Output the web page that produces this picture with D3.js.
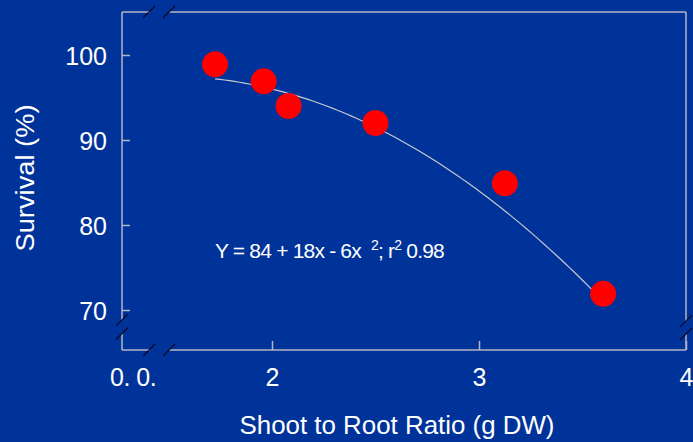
<!DOCTYPE html>
<html>
<head>
<meta charset="utf-8">
<script src="https://cdn.jsdelivr.net/npm/d3@7"></script>
<style>
  html, body { margin: 0; padding: 0; background: #003399; }
  svg { display: block; }
  text { font-family: "Liberation Sans", Arial, sans-serif; fill: #ffffff; }
</style>
</head>
<body>
<svg id="chart" width="693" height="442"></svg>
<script>
// Shoot-to-root ratio vs. seedling survival
const ratio    = [1.725, 1.96, 2.08, 2.50, 3.125, 3.60];
const survival = [98.9, 96.9, 94.0, 92.0, 84.9, 71.9];

// Quadratic fit Y = a + b·x + c·x², as printed on the chart
const fitCoef = [84, 18, -6];
const fitRange = [1.725, 3.60];

const xTicks = [2, 3, 4];
const xTickLabels = ["2", "3", "4"];
const yTicks = [70, 80, 90, 100];

const W = 693, H = 442;
const frame = { left: 122, right: 686, top: 12, bottom: 350 };

const svg = d3.select("#chart");
svg.append("rect").attr("width", W).attr("height", H).attr("fill", "#003399");

const x = d3.scaleLinear().domain([2, 4]).range([272, 686]);
const y = d3.scaleLinear().domain([70, 100]).range([310, 55]);

const axisColor = "#b4b4c4";
const breakColor = "#0a0a28";
const labelSize = 25;

// Frame with axis breaks
const frameG = svg.append("g").attr("stroke", axisColor).attr("stroke-width", 1.5).attr("fill", "none");
const seg = (x1, y1, x2, y2) => frameG.append("line").attr("x1", x1).attr("y1", y1).attr("x2", x2).attr("y2", y2);
// top
seg(frame.left, frame.top, 150, frame.top);
seg(169, frame.top, frame.right, frame.top);
// bottom
seg(frame.left, frame.bottom, 150, frame.bottom);
seg(169, frame.bottom, frame.right, frame.bottom);
// left
seg(frame.left, frame.top, frame.left, 320);
seg(frame.left, 333, frame.left, frame.bottom);
// right
seg(frame.right, frame.top, frame.right, 321);
seg(frame.right, 334, frame.right, frame.bottom);

// Break marks
const breaks = svg.append("g").attr("stroke", breakColor).attr("stroke-width", 1.3);
const slash = (cx, cy) => breaks.append("line")
  .attr("x1", cx - 6).attr("y1", cy + 6).attr("x2", cx + 6).attr("y2", cy - 6);
slash(149, frame.top); slash(169, frame.top);
slash(149, frame.bottom); slash(169, frame.bottom);
slash(frame.left, 320); slash(frame.left, 333.5);
slash(frame.right, 321); slash(frame.right, 334);

// Y axis
const yAxis = d3.axisLeft(y).tickValues(yTicks).tickSize(-8).tickPadding(15).tickFormat(d3.format("d"));
const gy = svg.append("g").attr("transform", `translate(${frame.left},0)`).call(yAxis);
gy.select(".domain").remove();
gy.selectAll(".tick line").attr("stroke", axisColor).attr("stroke-width", 1.5);
gy.selectAll(".tick text").attr("font-size", labelSize).attr("fill", "#fff")
  .attr("font-family", "Liberation Sans, Arial, sans-serif").attr("dy", "0.38em");

// X axis
const xAxis = d3.axisBottom(x).tickValues(xTicks).tickSize(-9).tickPadding(18)
  .tickFormat((d, i) => xTickLabels[i]);
const gx = svg.append("g").attr("transform", `translate(0,${frame.bottom})`).call(xAxis);
gx.select(".domain").remove();
gx.selectAll(".tick line").attr("stroke", axisColor).attr("stroke-width", 1.5);
gx.selectAll(".tick text").attr("font-size", labelSize).attr("fill", "#fff")
  .attr("font-family", "Liberation Sans, Arial, sans-serif");

// Broken-axis origin label
svg.append("text").attr("x", 110).attr("y", 386).attr("font-size", labelSize)
  .attr("letter-spacing", -0.5).text("0. 0.");

// Fitted curve
const fit = v => fitCoef[0] + fitCoef[1] * v + fitCoef[2] * v * v;
const curveX = d3.range(fitRange[0], fitRange[1] + 1e-9, (fitRange[1] - fitRange[0]) / 80);
svg.append("path")
  .datum(curveX)
  .attr("fill", "none").attr("stroke", "#c8c8d0").attr("stroke-width", 1.2)
  .attr("d", d3.line().x(d => x(d)).y(d => y(fit(d))).curve(d3.curveMonotoneX));

// Data points
svg.append("g").selectAll("circle")
  .data(ratio.map((r, i) => ({ r, s: survival[i] })))
  .join("circle")
  .attr("cx", d => x(d.r)).attr("cy", d => y(d.s)).attr("r", 13)
  .attr("fill", "#ff0000");

// Equation
const eq = svg.append("text").attr("x", 215).attr("y", 258).attr("font-size", 21)
  .attr("letter-spacing", -0.8);
eq.append("tspan").text("Y = 84 + 18x - 6x");
eq.append("tspan").attr("dx", 10).attr("dy", -8).attr("font-size", 14).text("2");
eq.append("tspan").attr("dy", 8).text("; r");
eq.append("tspan").attr("dy", -8).attr("font-size", 14).text("2");
eq.append("tspan").attr("dy", 8).text(" 0.98");

// Axis titles
svg.append("text")
  .attr("transform", "translate(34,178) rotate(-90)")
  .attr("text-anchor", "middle").attr("font-size", 26)
  .attr("textLength", 147).attr("lengthAdjust", "spacingAndGlyphs")
  .text("Survival (%)");

svg.append("text")
  .attr("x", 397).attr("y", 434)
  .attr("text-anchor", "middle").attr("font-size", 25)
  .attr("textLength", 315).attr("lengthAdjust", "spacingAndGlyphs")
  .text("Shoot to Root Ratio (g DW)");
</script>
</body>
</html>
